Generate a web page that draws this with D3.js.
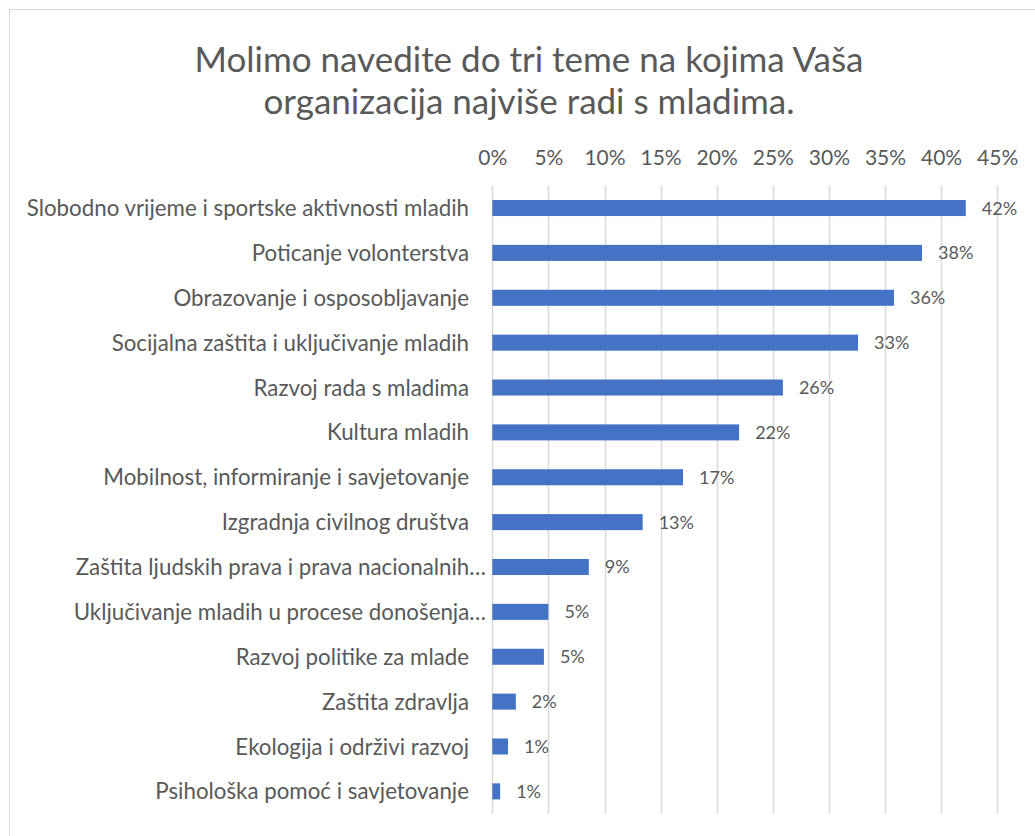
<!DOCTYPE html>
<html lang="hr">
<head>
    <meta charset="UTF-8">
    <title>Teme rada s mladima</title>
    <script src="https://cdn.jsdelivr.net/npm/d3@7/dist/d3.min.js"></script>
    <style>
        body { margin: 0; background: #fff; }
        text { font-family: Lato, "Noto Sans", sans-serif; fill: #595959; }
    </style>
</head>
<body>
<script>

    var titleLines = ["Molimo navedite do tri teme na kojima Vaša", "organizacija najviše radi s mladima."];

    var categories = [
        "Slobodno vrijeme i sportske aktivnosti mladih",
        "Poticanje volonterstva",
        "Obrazovanje i osposobljavanje",
        "Socijalna zaštita i uključivanje mladih",
        "Razvoj rada s mladima",
        "Kultura mladih",
        "Mobilnost, informiranje i savjetovanje",
        "Izgradnja civilnog društva",
        "Zaštita ljudskih prava i prava nacionalnih…",
        "Uključivanje mladih u procese donošenja…",
        "Razvoj politike za mlade",
        "Zaštita zdravlja",
        "Ekologija i održivi razvoj",
        "Psihološka pomoć i savjetovanje"
    ];
    var values = [0.422, 0.383, 0.358, 0.326, 0.259, 0.220, 0.170, 0.134, 0.086, 0.050, 0.046, 0.021, 0.014, 0.007];
    var tickValues = [0, 0.05, 0.10, 0.15, 0.20, 0.25, 0.30, 0.35, 0.40, 0.45];

    var width = 1035;
    var height = 836;

    var svg = d3.select("body").append("svg")
        .attr("width", width)
        .attr("height", height);

    // chart frame (right and bottom edge fall outside the picture)
    svg.append("rect")
        .attr("x", 9.5)
        .attr("y", 9.5)
        .attr("width", width + 20)
        .attr("height", height + 20)
        .attr("fill", "none")
        .attr("stroke", "#d9d9d9")
        .attr("stroke-width", 1);

    var xScale = d3.scaleLinear()
        .domain([0, 0.45])
        .range([492.3, 997.2]);

    var yScale = d3.scaleBand()
        .domain(categories)
        .range([185.6, 813.8])
        .paddingInner(0.643)
        .paddingOuter(0.3215);

    // title, two lines
    svg.append("g")
        .selectAll("text")
        .data(titleLines)
        .join("text")
        .attr("x", 529)
        .attr("y", function (d, i) { return 72 + i * 42; })
        .attr("text-anchor", "middle")
        .attr("font-size", "35px")
        .text(function (d) { return d; });

    // gridlines
    svg.append("g")
        .selectAll("line")
        .data(tickValues)
        .join("line")
        .attr("x1", function (d) { return Math.round(xScale(d)) + 0.5; })
        .attr("x2", function (d) { return Math.round(xScale(d)) + 0.5; })
        .attr("y1", 185.6)
        .attr("y2", 813.8)
        .attr("stroke", "#d9d9d9")
        .attr("stroke-width", 1.5);

    // top axis labels
    var xAxis = d3.axisTop(xScale)
        .tickValues(tickValues)
        .tickSize(0)
        .tickPadding(0)
        .tickFormat(d3.format(".0%"));

    var axisG = svg.append("g")
        .attr("transform", "translate(0,165)")
        .call(xAxis);
    axisG.select(".domain").remove();
    axisG.selectAll("text")
        .attr("font-size", "21px")
        .attr("font-family", "Lato, sans-serif")
        .attr("fill", "#595959")
        .attr("dy", 0);

    // bars
    svg.append("g")
        .selectAll("rect")
        .data(values)
        .join("rect")
        .attr("x", xScale(0))
        .attr("y", function (d, i) { return yScale(categories[i]); })
        .attr("width", function (d) { return xScale(d) - xScale(0); })
        .attr("height", yScale.bandwidth())
        .attr("fill", "#4472c4");

    // category labels
    svg.append("g")
        .selectAll("text")
        .data(categories)
        .join("text")
        .attr("x", function (d) { return d.slice(-1) === "…" ? 486 : 469; })
        .attr("y", function (d) { return yScale(d) + yScale.bandwidth() / 2; })
        .attr("dy", "0.36em")
        .attr("text-anchor", "end")
        .attr("font-size", "22.3px")
        .text(function (d) { return d; });

    // data labels
    svg.append("g")
        .selectAll("text")
        .data(values)
        .join("text")
        .attr("x", function (d) { return xScale(d) + 16; })
        .attr("y", function (d, i) { return yScale(categories[i]) + yScale.bandwidth() / 2; })
        .attr("dy", "0.36em")
        .attr("font-size", "18px")
        .attr("fill", "#404040")
        .text(function (d) { return d3.format(".0%")(d); });

</script>
</body>
</html>
